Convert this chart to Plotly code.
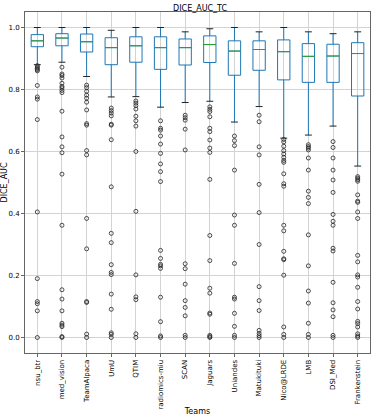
import plotly.graph_objects as go

teams = ["nsu_btr", "med_vision", "TeamAlpaca", "UmU", "QTIM", "radiomics-miu", "SCAN",
         "Jaguars", "Uniandes", "Matukituki", "Nico@LRDE", "LMB", "DSI_Med", "Frankenstein"]

whisk_hi = [1.0, 1.0, 1.0, 0.991, 1.0, 1.0, 0.986, 0.996, 1.0, 0.986, 1.0, 0.986, 0.98, 0.986]
q3 = [0.977, 0.98, 0.979, 0.967, 0.970, 0.970, 0.963, 0.973, 0.957, 0.957, 0.96, 0.948, 0.946, 0.951]
medians = [0.957, 0.966, 0.954, 0.935, 0.941, 0.935, 0.935, 0.945, 0.924, 0.929, 0.922, 0.907, 0.908, 0.916]
q1 = [0.938, 0.941, 0.921, 0.880, 0.888, 0.865, 0.879, 0.887, 0.846, 0.862, 0.831, 0.823, 0.823, 0.779]
whisk_lo = [0.880, 0.888, 0.842, 0.776, 0.777, 0.743, 0.758, 0.762, 0.695, 0.745, 0.643, 0.653, 0.682, 0.553]

outliers = [
    [0.877, 0.872, 0.868, 0.864, 0.86, 0.813, 0.776, 0.769, 0.703, 0.405, 0.19, 0.116, 0.109, 0.086, 0.0],
    [0.872, 0.85, 0.845, 0.837, 0.82, 0.81, 0.805, 0.797, 0.79, 0.73, 0.647, 0.615, 0.596, 0.527,
     0.362, 0.154, 0.124, 0.086, 0.046, 0.04, 0.035, 0.003, 0.0],
    [0.814, 0.806, 0.794, 0.782, 0.772, 0.759, 0.734, 0.69, 0.685, 0.603, 0.589, 0.384, 0.286,
     0.116, 0.113, 0.011, 0.0],
    [0.74, 0.732, 0.724, 0.715, 0.688, 0.685, 0.638, 0.486, 0.336, 0.306, 0.235, 0.21, 0.203, 0.14,
     0.091, 0.015, 0.01, 0.0],
    [0.763, 0.756, 0.748, 0.737, 0.714, 0.699, 0.682, 0.6, 0.407, 0.202, 0.131, 0.122, 0.012, 0.0],
    [0.699, 0.675, 0.669, 0.65, 0.624, 0.594, 0.56, 0.535, 0.503, 0.281, 0.255, 0.236, 0.231, 0.223,
     0.13, 0.051, 0.005, 0.0],
    [0.717, 0.709, 0.701, 0.672, 0.605, 0.238, 0.222, 0.172, 0.119, 0.097, 0.07, 0.007, 0.0],
    [0.744, 0.736, 0.729, 0.712, 0.675, 0.664, 0.637, 0.611, 0.597, 0.51, 0.329, 0.248, 0.159,
     0.143, 0.079, 0.075, 0.007, 0.003, 0.0],
    [0.65, 0.635, 0.619, 0.54, 0.395, 0.362, 0.239, 0.13, 0.124, 0.078, 0.036, 0.007, 0.0],
    [0.717, 0.696, 0.615, 0.589, 0.494, 0.403, 0.3, 0.164, 0.119, 0.087, 0.023, 0.013, 0.006, 0.0],
    [0.639, 0.631, 0.617, 0.603, 0.592, 0.581, 0.571, 0.565, 0.528, 0.496, 0.488, 0.362, 0.344,
     0.278, 0.254, 0.251, 0.201, 0.034, 0.01, 0.0],
    [0.622, 0.616, 0.611, 0.605, 0.579, 0.54, 0.472, 0.452, 0.432, 0.331, 0.231, 0.15, 0.111, 0.046,
     0.01, 0.0],
    [0.632, 0.613, 0.579, 0.54, 0.508, 0.468, 0.397, 0.375, 0.362, 0.288, 0.279, 0.178, 0.112,
     0.089, 0.067, 0.007, 0.0],
    [0.519, 0.514, 0.509, 0.504, 0.46, 0.44, 0.436, 0.405, 0.384, 0.265, 0.244, 0.202, 0.195, 0.162,
     0.116, 0.092, 0.052, 0.045, 0.034, 0.012, 0.005, 0.0],
]

idx = list(range(len(teams)))
BOX_W = 0.5
CAP_HALF = 0.14
BLUE = "#1f77b4"
GREEN = "#2ca02c"

fig = go.Figure()

fig.add_trace(go.Box(
    x=idx, q1=q1, median=medians, q3=q3, lowerfence=whisk_lo, upperfence=whisk_hi,
    width=BOX_W, whiskerwidth=0, boxpoints=False,
    line=dict(color=BLUE, width=1), fillcolor="rgba(0,0,0,0)",
    showlegend=False, hoverinfo="skip",
))

# medians (green)
mx, my = [], []
for i, m in zip(idx, medians):
    mx += [i - BOX_W / 2, i + BOX_W / 2, None]
    my += [m, m, None]
fig.add_trace(go.Scatter(x=mx, y=my, mode="lines", line=dict(color=GREEN, width=1),
                         showlegend=False, hoverinfo="skip"))

# caps (black)
cx, cy = [], []
for i, lo, hi in zip(idx, whisk_lo, whisk_hi):
    cx += [i - CAP_HALF, i + CAP_HALF, None, i - CAP_HALF, i + CAP_HALF, None]
    cy += [lo, lo, None, hi, hi, None]
fig.add_trace(go.Scatter(x=cx, y=cy, mode="lines", line=dict(color="#222222", width=1),
                         showlegend=False, hoverinfo="skip"))

# outliers
ox, oy = [], []
for i, vals in zip(idx, outliers):
    ox += [i] * len(vals)
    oy += vals
fig.add_trace(go.Scatter(x=ox, y=oy, mode="markers",
                         marker=dict(symbol="circle-open", size=4, color="#222222",
                                     line=dict(width=0.8)),
                         showlegend=False, hoverinfo="skip"))

fig.update_layout(
    width=374, height=416,
    margin=dict(l=25, r=4, t=12, b=63),
    paper_bgcolor="white", plot_bgcolor="white",
    font=dict(family="DejaVu Sans", size=8, color="black"),
    title=dict(text="DICE_AUC_TC", x=0.535, xanchor="center", y=0.987, yanchor="top",
               font=dict(size=8)),
)
fig.update_xaxes(
    tickmode="array", tickvals=idx, ticktext=teams, tickangle=-90,
    range=[-0.5, len(teams) - 0.5],
    showgrid=True, gridcolor="#d3d3d3", gridwidth=1,
    showline=True, mirror=True, linecolor="#666666", linewidth=1,
    ticks="outside", ticklen=3, tickcolor="#666666",
    tickfont=dict(size=7),
    title=dict(text="Teams", font=dict(size=8), standoff=4),
    zeroline=False, automargin=False,
)
fig.update_yaxes(
    range=[-0.05, 1.05], tickvals=[0, 0.2, 0.4, 0.6, 0.8, 1.0], tickformat=".1f",
    showgrid=True, gridcolor="#d3d3d3", gridwidth=1,
    showline=True, mirror=True, linecolor="#666666", linewidth=1,
    ticks="outside", ticklen=3, tickcolor="#666666",
    tickfont=dict(size=7),
    title=dict(text="DICE_AUC", font=dict(size=8), standoff=2),
    zeroline=False, automargin=False,
)

fig.write_html("out.html", config={"displayModeBar": False},
               post_script="document.body.style.margin='0px';document.body.style.padding='0px';")
